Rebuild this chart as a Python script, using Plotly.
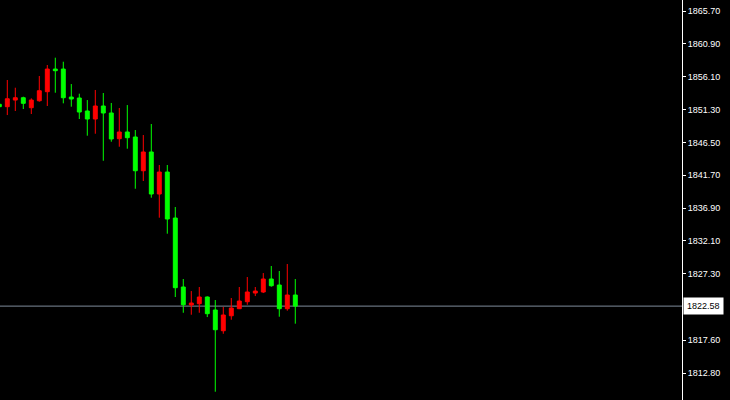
import plotly.graph_objects as go

# Candle index (one per bar), OHLC values
bar_index = list(range(38))
opens = [1852.07, 1851.72, 1852.69, 1853.03, 1851.57, 1852.59, 1853.91, 1857.22, 1857.22, 1853.13,
         1852.99, 1851.09, 1849.92, 1851.82, 1850.80, 1847.04, 1848.02, 1847.29, 1842.36, 1845.10,
         1838.96, 1842.17, 1835.45, 1825.37, 1822.74, 1822.93, 1823.91, 1822.01, 1818.98, 1821.17,
         1822.20, 1823.22, 1824.49, 1824.64, 1826.54, 1825.66, 1822.20, 1824.20]
highs = [1852.26, 1855.62, 1854.49, 1853.18, 1852.94, 1856.20, 1857.81, 1858.88, 1858.29, 1855.03,
         1853.62, 1852.69, 1854.16, 1853.72, 1852.26, 1851.53, 1851.96, 1848.31, 1847.58, 1849.19,
         1843.20, 1843.20, 1837.06, 1826.54, 1824.78, 1825.37, 1824.00, 1823.47, 1822.45, 1823.76,
         1825.37, 1826.83, 1825.37, 1827.41, 1828.44, 1827.71, 1828.73, 1826.54]
lows = [1851.38, 1850.50, 1851.09, 1851.38, 1850.65, 1852.45, 1851.82, 1853.76, 1852.21, 1851.72,
        1849.92, 1847.48, 1847.77, 1843.82, 1846.60, 1845.87, 1845.58, 1839.73, 1840.86, 1838.42,
        1835.50, 1833.16, 1823.91, 1821.61, 1821.32, 1821.61, 1820.98, 1810.07, 1818.54, 1820.59,
        1822.15, 1822.78, 1824.05, 1824.49, 1825.41, 1821.03, 1821.91, 1820.01]
closes = [1851.72, 1852.88, 1853.03, 1852.21, 1852.69, 1854.05, 1857.22, 1856.98, 1853.03, 1852.84,
          1850.94, 1849.92, 1851.82, 1850.80, 1847.00, 1848.02, 1847.19, 1842.36, 1845.10, 1838.96,
          1842.17, 1835.31, 1825.27, 1822.78, 1823.03, 1823.91, 1821.47, 1819.13, 1821.28, 1822.30,
          1823.32, 1824.64, 1824.78, 1826.54, 1825.56, 1822.20, 1824.20, 1822.58]

current_price = 1822.58
tick_values = [1865.70, 1860.90, 1856.10, 1851.30, 1846.50, 1841.70, 1836.90, 1832.10, 1827.30, 1817.60, 1812.80]
tick_labels = ["1865.70", "1860.90", "1856.10", "1851.30", "1846.50", "1841.70", "1836.90", "1832.10",
               "1827.30", "1817.60", "1812.80"]

fig = go.Figure()
fig.add_trace(go.Candlestick(
    x=bar_index, open=opens, high=highs, low=lows, close=closes,
    increasing=dict(line=dict(color="#FF0000", width=1), fillcolor="#FF0000"),
    decreasing=dict(line=dict(color="#00FF00", width=1), fillcolor="#00FF00"),
    whiskerwidth=0, showlegend=False, hoverinfo="skip",
))

fig.add_shape(type="line", xref="paper", x0=0, x1=1, yref="y", y0=current_price, y1=current_price,
              line=dict(color="#7F8C9A", width=1), layer="below")

fig.add_annotation(xref="paper", x=1, y=current_price, yref="y", text=f"{current_price:.2f}",
                   showarrow=False, xanchor="left", yanchor="middle", xshift=1,
                   bgcolor="#FFFFFF", font=dict(color="#000000", size=9, family="Liberation Sans"),
                   borderpad=3)

fig.update_layout(
    width=730, height=400,
    margin=dict(l=0, r=48, t=0, b=0),
    paper_bgcolor="#000000", plot_bgcolor="#000000",
    boxgap=0.3, boxgroupgap=0.3,
    xaxis=dict(range=[0.0875, 85.34], visible=False, showgrid=False, zeroline=False,
               rangeslider=dict(visible=False), fixedrange=True),
    yaxis=dict(range=[1808.86, 1867.31], side="right", showgrid=False, zeroline=False,
               showline=True, linecolor="#FFFFFF", linewidth=1,
               tickmode="array", tickvals=tick_values, ticktext=tick_labels,
               ticks="outside", ticklen=3, tickcolor="#FFFFFF",
               tickfont=dict(color="#FFFFFF", size=9, family="Liberation Sans"),
               fixedrange=True),
)

fig.write_html("out.html", config={"displayModeBar": False},
               post_script="document.body.style.margin='0';document.body.style.background='#000';")
